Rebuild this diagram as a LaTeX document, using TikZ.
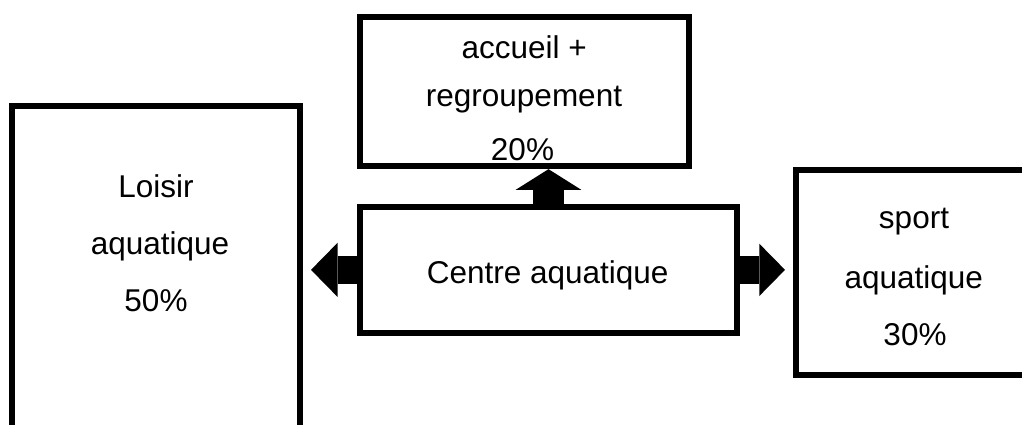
\documentclass[tikz,border=0pt]{standalone}
\usepackage{fontspec}
\setmainfont{Liberation Sans}
\usetikzlibrary{arrows.meta}
\tikzset{
  box/.style={draw=black, line width=6.3pt, fill=white, rectangle, inner sep=0pt},
  txt/.style={inner sep=0pt, anchor=base, font=\fontsize{31.5}{38}\selectfont},
  blockarrow/.style={draw=black, line cap=butt}
}
\begin{document}
\begin{tikzpicture}[x=1pt,y=-1pt]
\useasboundingbox (0,0) rectangle (1022,424);
% boxes
\node[box, minimum width=288pt, minimum height=334pt] (L) at (156,273) {};
\node[box, minimum width=329pt, minimum height=149.3pt] (T) at (524.5,91.35) {};
\node[box, minimum width=377pt, minimum height=125.7pt] (C) at (548.5,269.85) {};
\node[box, minimum width=244pt, minimum height=205.3pt] (R) at (918,272.35) {};
% texts
\node[txt] (L1) at (156,197.3) {Loisir};
\node[txt] (L2) at (160,254) {aquatique};
\node[txt] (L3) at (156,311.7) {50\%};
\node[txt] (T1) at (524.2,58.3) {accueil +};
\node[txt] (T2) at (524,106.7) {regroupement};
\node[txt] (T3) at (522.5,160) {20\%};
\node[txt] (C1) at (547.7,283.3) {Centre aquatique};
\node[txt] (R1) at (914,228.3) {sport};
\node[txt] (R2) at (913.8,288.3) {aquatique};
\node[txt] (R3) at (915,345) {30\%};
% arrows
\draw[blockarrow, line width=27.5pt, -{Triangle[length=26.5pt,width=54pt,line width=0pt]}, shorten >=7.85pt]
  (C.west) -- (C.west -| L.east);
\draw[blockarrow, line width=28.3pt, -{Triangle[length=25.7pt,width=52.3pt,line width=0pt]}, shorten >=7.85pt]
  (C.east) -- (C.east -| R.west);
\draw[blockarrow, line width=31.3pt, -{Triangle[length=20.7pt,width=65.7pt,line width=0pt]}]
  (C.north) -- (C.north |- T.south);
\end{tikzpicture}
\end{document}
